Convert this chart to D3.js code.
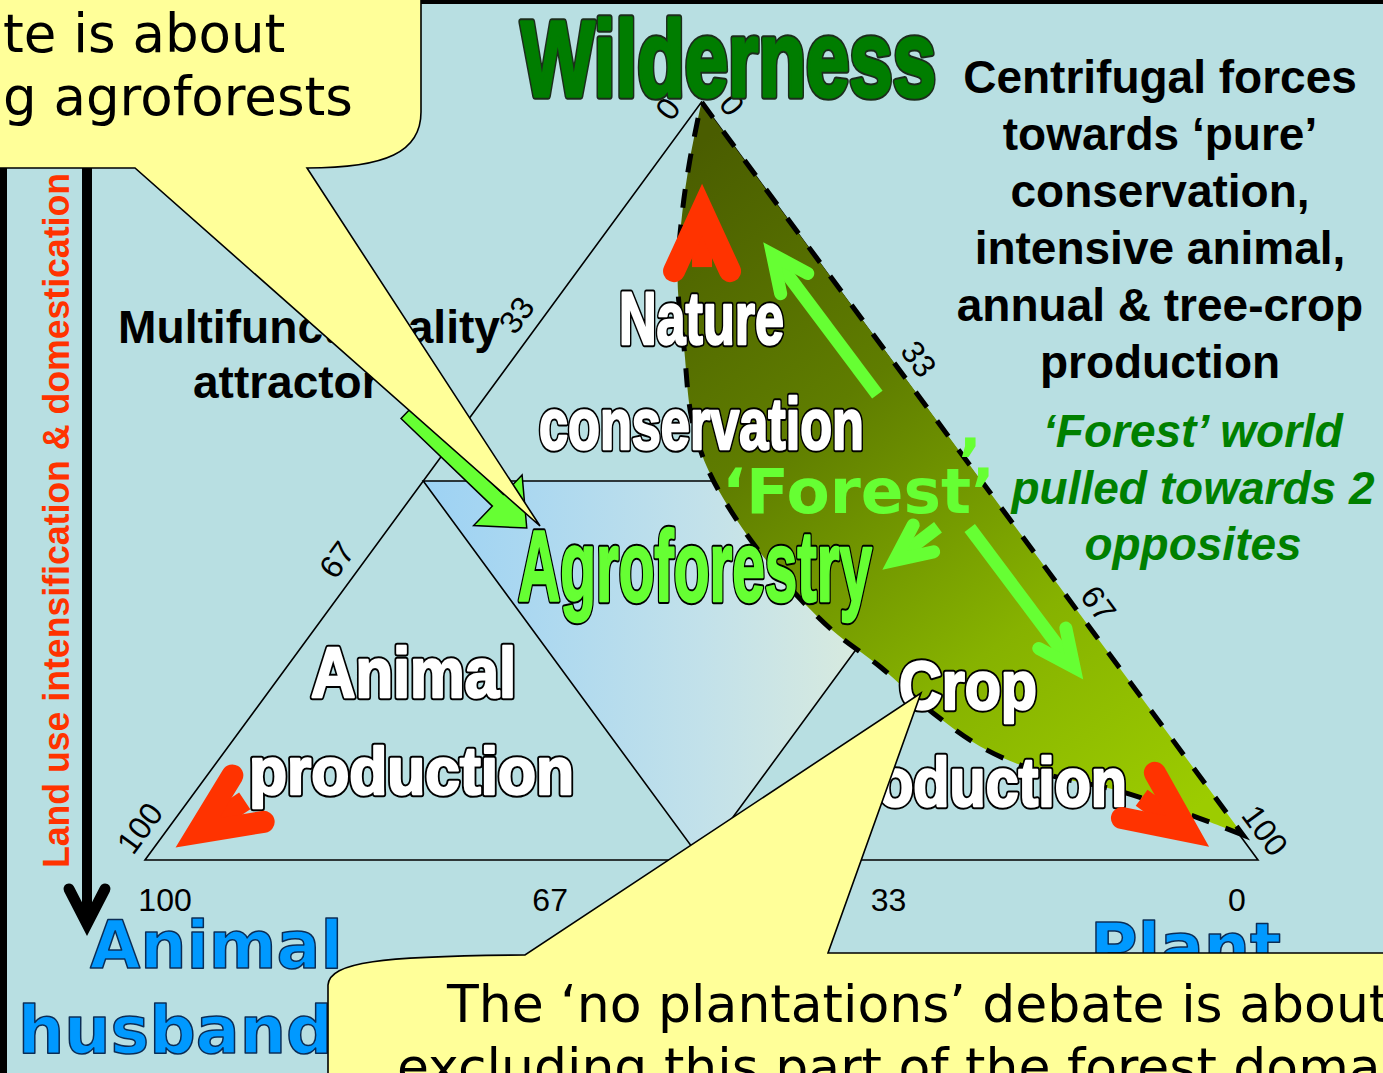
<!DOCTYPE html>
<html>
<head>
<meta charset="utf-8">
<script src="https://cdn.jsdelivr.net/npm/d3@7"></script>
<style>
body{margin:0;overflow:hidden;background:#b8dfe2}
</style>
</head>
<body>
<svg id="chart"></svg>
<script>
// ternary units: p = plant share, w = wilderness share, animal = 100 - p - w
let leftTicks=[0,33,67,100];
let rightTicks=[0,33,67,100];
let baseTicks=[100,67,33,0];

// lower (curved) edge of the 'forest' domain, from the plant corner up to wilderness
let forestP=[97,92,82.7,75.7,68.4,61.1,53.3,46.6,37.8,30.7,24.6,19.9,14.8,9.6,5.7,2.8,0];
let forestW=[3.3,5.5,9.2,11.2,14.5,19.4,25.5,30.3,37.9,44.9,51.8,58.4,67.3,76.5,85.1,92.3,100];

// centrifugal (red) arrows
let redP=[5.4,1.9,94.8];
let redW=[89.3,1.6,1.7];
let redHeading=[0,236,126];

// 'forest' world pulled (green) arrows
let greenFromP=[35.1,49.3,52.2], greenFromW=[61.4,43.9,43.8];
let greenToP=[14.8,47.1,72.4],  greenToW=[81.5,38.3,23.8];

// multifunctionality attractor arrow
let attractorP=[-6,12.4], attractorW=[59,43.8];

let centrifugalLines=["Centrifugal forces","towards \u2018pure\u2019","conservation,","intensive animal,","annual & tree-crop","production"];
let forestWorldLines=["\u2018Forest\u2019 world","pulled towards 2","opposites"];

const W=1383,H=1073;
const svg=d3.select("#chart").attr("width",W).attr("height",H);

const x=d3.scaleLinear().domain([0,100]).range([145,1258]);
const y=d3.scaleLinear().domain([0,100]).range([860,102]);
function pt(p,w){return [x(p+w/2),y(w)];}

// gradients
const defs=svg.append("defs");
let ag=defs.append("linearGradient").attr("id","agro").attr("x1",0).attr("x2",1).attr("y1",0).attr("y2",0);
ag.append("stop").attr("offset",0).attr("stop-color","#9dd2f4");
ag.append("stop").attr("offset",0.5).attr("stop-color","#c2e1ea");
ag.append("stop").attr("offset",1).attr("stop-color","#e8f1d6");
let fg=defs.append("linearGradient").attr("id","forest").attr("gradientUnits","userSpaceOnUse")
  .attr("x1",690).attr("y1",150).attr("x2",1180).attr("y2",820);
fg.append("stop").attr("offset",0).attr("stop-color","#4a5d00");
fg.append("stop").attr("offset",0.35).attr("stop-color","#5f7d00");
fg.append("stop").attr("offset",0.7).attr("stop-color","#86b200");
fg.append("stop").attr("offset",1).attr("stop-color","#9ccc00");

svg.append("rect").attr("width",W).attr("height",H).attr("fill","#b8dfe2");
svg.append("rect").attr("x",0).attr("y",0).attr("width",W).attr("height",4).attr("fill","#000");
svg.append("rect").attr("x",0).attr("y",0).attr("width",7).attr("height",H).attr("fill","#000");

// agroforestry middle triangle
svg.append("path").attr("d",d3.line()([pt(0,50),pt(50,50),pt(50,0)])+"Z").attr("fill","url(#agro)");

// triangle + subdivisions
svg.append("path").attr("d",d3.line()([pt(0,0),pt(100,0),pt(0,100)])+"Z")
  .attr("fill","none").attr("stroke","#000").attr("stroke-width",1.6);
svg.append("path").attr("d",d3.line()([pt(0,50),pt(50,50),pt(50,0)])+"Z")
  .attr("fill","none").attr("stroke","#000").attr("stroke-width",1.6);

// forest domain
let forestPts=forestP.map((p,i)=>pt(p,forestW[i]));
let forestPath=d3.line().curve(d3.curveCatmullRom.alpha(0.5))(forestPts)+"Z";
svg.append("path").attr("d",forestPath).attr("fill","url(#forest)");
svg.append("path").attr("d",forestPath).attr("fill","none").attr("stroke","#000")
  .attr("stroke-width",5).attr("stroke-dasharray","19,17");

// tick labels
const leftT=d3.scaleLinear().domain([0,33,67,100]).range([0.027,0.299,0.622,0.976]);
const rightT=d3.scaleLinear().domain([0,33,67,100]).range([0.0215,0.357,0.68,0.979]);
const baseT=d3.scaleLinear().domain([100,67,33,0]).range([0.018,0.364,0.668,0.981]);
const edgeAng=Math.atan2(y(0)-y(100),x(50)-x(0))*180/Math.PI;
function tick(v,pos,dx,dy,rot){
  svg.append("text").attr("transform","translate("+(pos[0]+dx)+","+(pos[1]+dy)+") rotate("+rot+")")
    .attr("text-anchor","middle").attr("dominant-baseline","central")
    .attr("font-family","Liberation Sans").attr("font-size",32).attr("fill","#000").text(v);
}
leftTicks.forEach(v=>{let t=leftT(v);tick(v,pt(0,100*(1-t)),-0.806*23,-0.592*23,-edgeAng);});
rightTicks.forEach(v=>{let t=rightT(v);tick(v,pt(100*t,100*(1-t)),0.806*23,-0.591*23,edgeAng);});
baseTicks.forEach(v=>{let t=baseT(v);tick(v,pt(100*t,0),0,40,0);});

// text helpers
function label(txt,x0,y0,o){
  let t=svg.append("text").attr("x",x0).attr("y",y0).text(txt)
    .attr("font-family",o.font||"Liberation Sans").attr("font-weight",o.weight||"bold")
    .attr("font-size",o.size).attr("fill",o.fill||"#000");
  if(o.stroke) t.attr("stroke",o.stroke).attr("stroke-width",o.sw||1.5).attr("stroke-linejoin","round");
  if(o.len) t.attr("textLength",o.len).attr("lengthAdjust","spacingAndGlyphs");
  if(o.anchor) t.attr("text-anchor",o.anchor);
  if(o.style) t.attr("font-style",o.style);
  return t;
}
// heavy outlined word-art: dark outline underneath, fattened fill on top
function heavy(txt,x0,y0,o){
  label(txt,x0,y0,{size:o.size,len:o.len,fill:o.line,stroke:o.line,sw:o.thick+4,font:o.font});
  label(txt,x0,y0,{size:o.size,len:o.len,fill:o.fill,stroke:o.fill,sw:o.thick,font:o.font});
}

heavy("Wilderness",521,96,{size:108,len:415,fill:"#007d00",line:"#1c2c1c",thick:3.5});
heavy("Nature",619,344,{size:75,len:165,fill:"#fff",line:"#000",thick:2.5});
heavy("conservation",539,449,{size:73,len:325,fill:"#fff",line:"#000",thick:2.5});
heavy("Animal",311,697,{size:71,len:205,fill:"#fff",line:"#000",thick:2.5});
heavy("production",249,794,{size:67,len:325,fill:"#fff",line:"#000",thick:2.5});
heavy("Crop",899,709,{size:69,len:138,fill:"#fff",line:"#000",thick:2.5});
heavy("production",818,806,{size:69,len:309,fill:"#fff",line:"#000",thick:2.5});
heavy("Agroforestry",518,601,{size:100,len:354,fill:"#66ff33",line:"#000",thick:2.5});
label("\u2018Forest\u2019",722,513,{font:"DejaVu Sans",size:63,fill:"#66ff33"});
label("\u2019",958,483,{font:"DejaVu Sans",size:63,fill:"#66ff33"});

centrifugalLines.forEach((s,i)=>label(s,1160,93+i*57,{size:46,anchor:"middle"}));
forestWorldLines.forEach((s,i)=>label(s,1193,447+i*56.5,{size:46,anchor:"middle",style:"italic",fill:"#008000"}));
label("Multifunctionality",118,343,{size:46,len:382});
label("attractor",193,398,{size:46});

// red centrifugal arrows
redP.forEach((p,i)=>{
  let c=pt(p,redW[i]);
  let g=svg.append("g").attr("transform","translate("+c[0]+","+c[1]+") rotate("+redHeading[i]+")");
  g.append("line").attr("x1",0).attr("y1",45).attr("x2",0).attr("y2",84)
    .attr("stroke","#ff3300").attr("stroke-width",20);
  g.append("path").attr("d",d3.line()([[-28,88],[0,27],[28,88]])).attr("fill","none")
    .attr("stroke","#ff3300").attr("stroke-width",22).attr("stroke-linejoin","miter").attr("stroke-linecap","round");
});

// green pull arrows
greenFromP.forEach((p,i)=>{
  let a=pt(p,greenFromW[i]),b=pt(greenToP[i],greenToW[i]);
  let len=Math.hypot(b[0]-a[0],b[1]-a[1]);
  let ang=Math.atan2(b[1]-a[1],b[0]-a[0])*180/Math.PI;
  let g=svg.append("g").attr("transform","translate("+b[0]+","+b[1]+") rotate("+ang+")");
  let sw=13,sp=25*Math.PI/180,m=(sw/2)/Math.sin(sp),L=40;
  g.append("line").attr("x1",-len).attr("y1",0).attr("x2",-m-4).attr("y2",0)
    .attr("stroke","#66ff33").attr("stroke-width",sw).attr("stroke-linecap","butt");
  g.append("path").attr("d",d3.line()([[-m-L*Math.cos(sp),-L*Math.sin(sp)],[-m,0],[-m-L*Math.cos(sp),L*Math.sin(sp)]]))
    .attr("fill","none").attr("stroke","#66ff33").attr("stroke-width",sw)
    .attr("stroke-linejoin","miter").attr("stroke-linecap","round");
});

// attractor block arrow
{
  let a=pt(attractorP[0],attractorW[0]),b=pt(attractorP[1],attractorW[1]);
  let len=Math.hypot(b[0]-a[0],b[1]-a[1]);
  let ang=Math.atan2(b[1]-a[1],b[0]-a[0])*180/Math.PI;
  svg.append("path").attr("transform","translate("+b[0]+","+b[1]+") rotate("+ang+")")
    .attr("d",d3.line()([[0,0],[-40,-35],[-40,-8],[-len,-8],[-len,8],[-40,8],[-40,35]])+"Z")
    .attr("fill","#66ff33").attr("stroke","#000").attr("stroke-width",1.5).attr("stroke-linejoin","miter");
}

// land use intensification arrow
svg.append("line").attr("x1",87).attr("y1",0).attr("x2",87).attr("y2",922)
  .attr("stroke","#000").attr("stroke-width",10);
svg.append("path").attr("d",d3.line()([[69,889],[87,924],[105,889]])).attr("fill","none")
  .attr("stroke","#000").attr("stroke-width",11).attr("stroke-linecap","round").attr("stroke-linejoin","miter");
svg.append("text").attr("transform","translate(69,868) rotate(-90)")
  .attr("font-family","Liberation Sans").attr("font-weight","bold").attr("font-size",36)
  .attr("textLength",695).attr("lengthAdjust","spacingAndGlyphs")
  .attr("fill","#ff3300").text("Land use intensification & domestication");

// corner names
label("Animal",90,968,{font:"DejaVu Sans",size:65,fill:"#0099ff",stroke:"#0b2c55",sw:1.5});
label("husbandry",18,1053,{font:"DejaVu Sans",size:65,fill:"#0099ff",stroke:"#0b2c55",sw:1.5});
label("Plant",1090,970,{font:"DejaVu Sans",size:65,fill:"#0099ff",stroke:"#0b2c55",sw:1.5});

// callouts
svg.append("path").attr("d","M-20,-20 L421,-20 L421,112 C421,152 386,168 307,168 L540,526 L135,168 L-20,168 Z")
  .attr("fill","#ffff99").attr("stroke","#000").attr("stroke-width",1.6);
label("te is about",3,52,{font:"DejaVu Sans",weight:"normal",size:53});
label("g agroforests",3,115,{font:"DejaVu Sans",weight:"normal",size:53});

svg.append("path").attr("d","M328,1100 L328,985 C330,962 380,956 525,955 L921,693 L828,953 L1400,953 L1400,1100 Z")
  .attr("fill","#ffff99").attr("stroke","#000").attr("stroke-width",1.6);
label("The \u2018no plantations\u2019 debate is about",447,1022,{font:"DejaVu Sans",weight:"normal",size:52});
label("excluding this part of the forest domain",397,1085,{font:"DejaVu Sans",weight:"normal",size:52});
</script>
</body>
</html>
